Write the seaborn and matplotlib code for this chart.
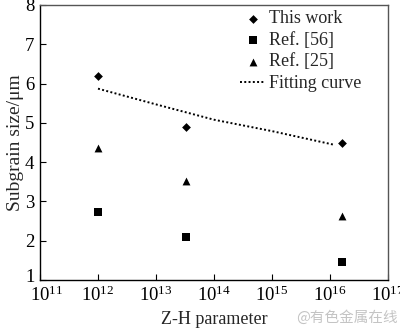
import matplotlib
matplotlib.use("Agg")
import matplotlib.pyplot as plt
import matplotlib.transforms as mtransforms
import seaborn as sns
import pandas as pd
from matplotlib.ticker import LogLocator, LogFormatterMathtext, NullLocator

# Data
zh_points = [1.0e12, 3.3e13, 1.6e16]
this_work = [6.2, 4.9, 4.5]
ref56 = [2.72, 2.1, 1.46]
ref25 = [4.36, 3.53, 2.62]
fit_x = [1.0e12, 1.0e13, 1.0e14, 1.0e15, 1.2e16]
fit_y = [5.87, 5.47, 5.08, 4.79, 4.44]

sns.set_theme(style="ticks")
plt.rcParams['font.family'] = ['Liberation Serif', 'DejaVu Serif']
plt.rcParams['mathtext.fontset'] = 'custom'
plt.rcParams['mathtext.rm'] = 'Liberation Serif'
plt.rcParams['mathtext.it'] = 'Liberation Serif:italic'

fig = plt.figure(figsize=(4.0, 3.28), dpi=100)
ax = fig.add_axes([0.10, 0.146, 0.87, 0.839])

df_tw = pd.DataFrame({"x": zh_points, "y": this_work})
df_56 = pd.DataFrame({"x": zh_points, "y": ref56})
df_25 = pd.DataFrame({"x": zh_points, "y": ref25})
df_fit = pd.DataFrame({"x": fit_x, "y": fit_y})

sns.scatterplot(data=df_tw, x="x", y="y", marker="D", s=20, color="black",
                edgecolor="black", linewidth=0, ax=ax, label="This work")
sns.scatterplot(data=df_56, x="x", y="y", marker="s", s=28, color="black",
                edgecolor="black", linewidth=0, ax=ax, label="Ref. [56]")
sns.scatterplot(data=df_25, x="x", y="y", marker="^", s=32, color="black",
                edgecolor="black", linewidth=0, ax=ax, label="Ref. [25]")
sns.lineplot(data=df_fit, x="x", y="y", color="black", linestyle=(0, (1, 1.2)),
             linewidth=1.4, ax=ax, label="Fitting curve")

ax.set_xscale("log")
ax.set_xlim(1e11, 1e17)
ax.set_ylim(1, 8)
ax.xaxis.set_major_locator(LogLocator(base=10, numticks=20))
ax.xaxis.set_major_formatter(LogFormatterMathtext())
ax.xaxis.set_minor_locator(NullLocator())
ax.set_yticks([1, 2, 3, 4, 5, 6, 7, 8])

ax.set_xlabel("Z-H parameter", fontsize=13, labelpad=4)
ax.set_ylabel("Subgrain size/\u03bcm", fontsize=14, labelpad=1)

ax.tick_params(axis="both", direction="in", length=4, width=0.8, labelsize=13.5,
               top=False, right=False, colors="black")
ax.tick_params(axis="x", pad=4)
ax.tick_params(axis="y", pad=4)
for sp in ax.spines.values():
    sp.set_visible(True)
    sp.set_color("#555555")
    sp.set_linewidth(1.0)
ax.spines["left"].set_color("black")
ax.spines["bottom"].set_color("black")

leg = ax.legend(loc="upper left", frameon=False, fontsize=13,
                handlelength=1.4, handletextpad=0.2, labelspacing=0.25,
                borderpad=0, borderaxespad=0, bbox_to_anchor=(0.575, 0.98))

fig.text(0.995, 0.01, "@有色金属在线", ha="right", va="bottom", fontsize=10.5,
         color="#c4c4c4", family=["Noto Sans CJK SC", "DejaVu Sans"])

fig.canvas.draw()
# nudge first tick labels as in the reference (avoid corner overlap)
xt = ax.xaxis.get_major_ticks()
for t in xt:
    if abs(t.get_loc() - 1e11) / 1e11 < 1e-6:
        t.label1.set_transform(t.label1.get_transform() +
                               mtransforms.ScaledTranslation(7 / 100, 0, fig.dpi_scale_trans))
yt = ax.yaxis.get_major_ticks()
for t in yt:
    if abs(t.get_loc() - 1) < 1e-6:
        t.label1.set_transform(t.label1.get_transform() +
                               mtransforms.ScaledTranslation(0, 5 / 100, fig.dpi_scale_trans))

fig.savefig("out.png", dpi=100)
